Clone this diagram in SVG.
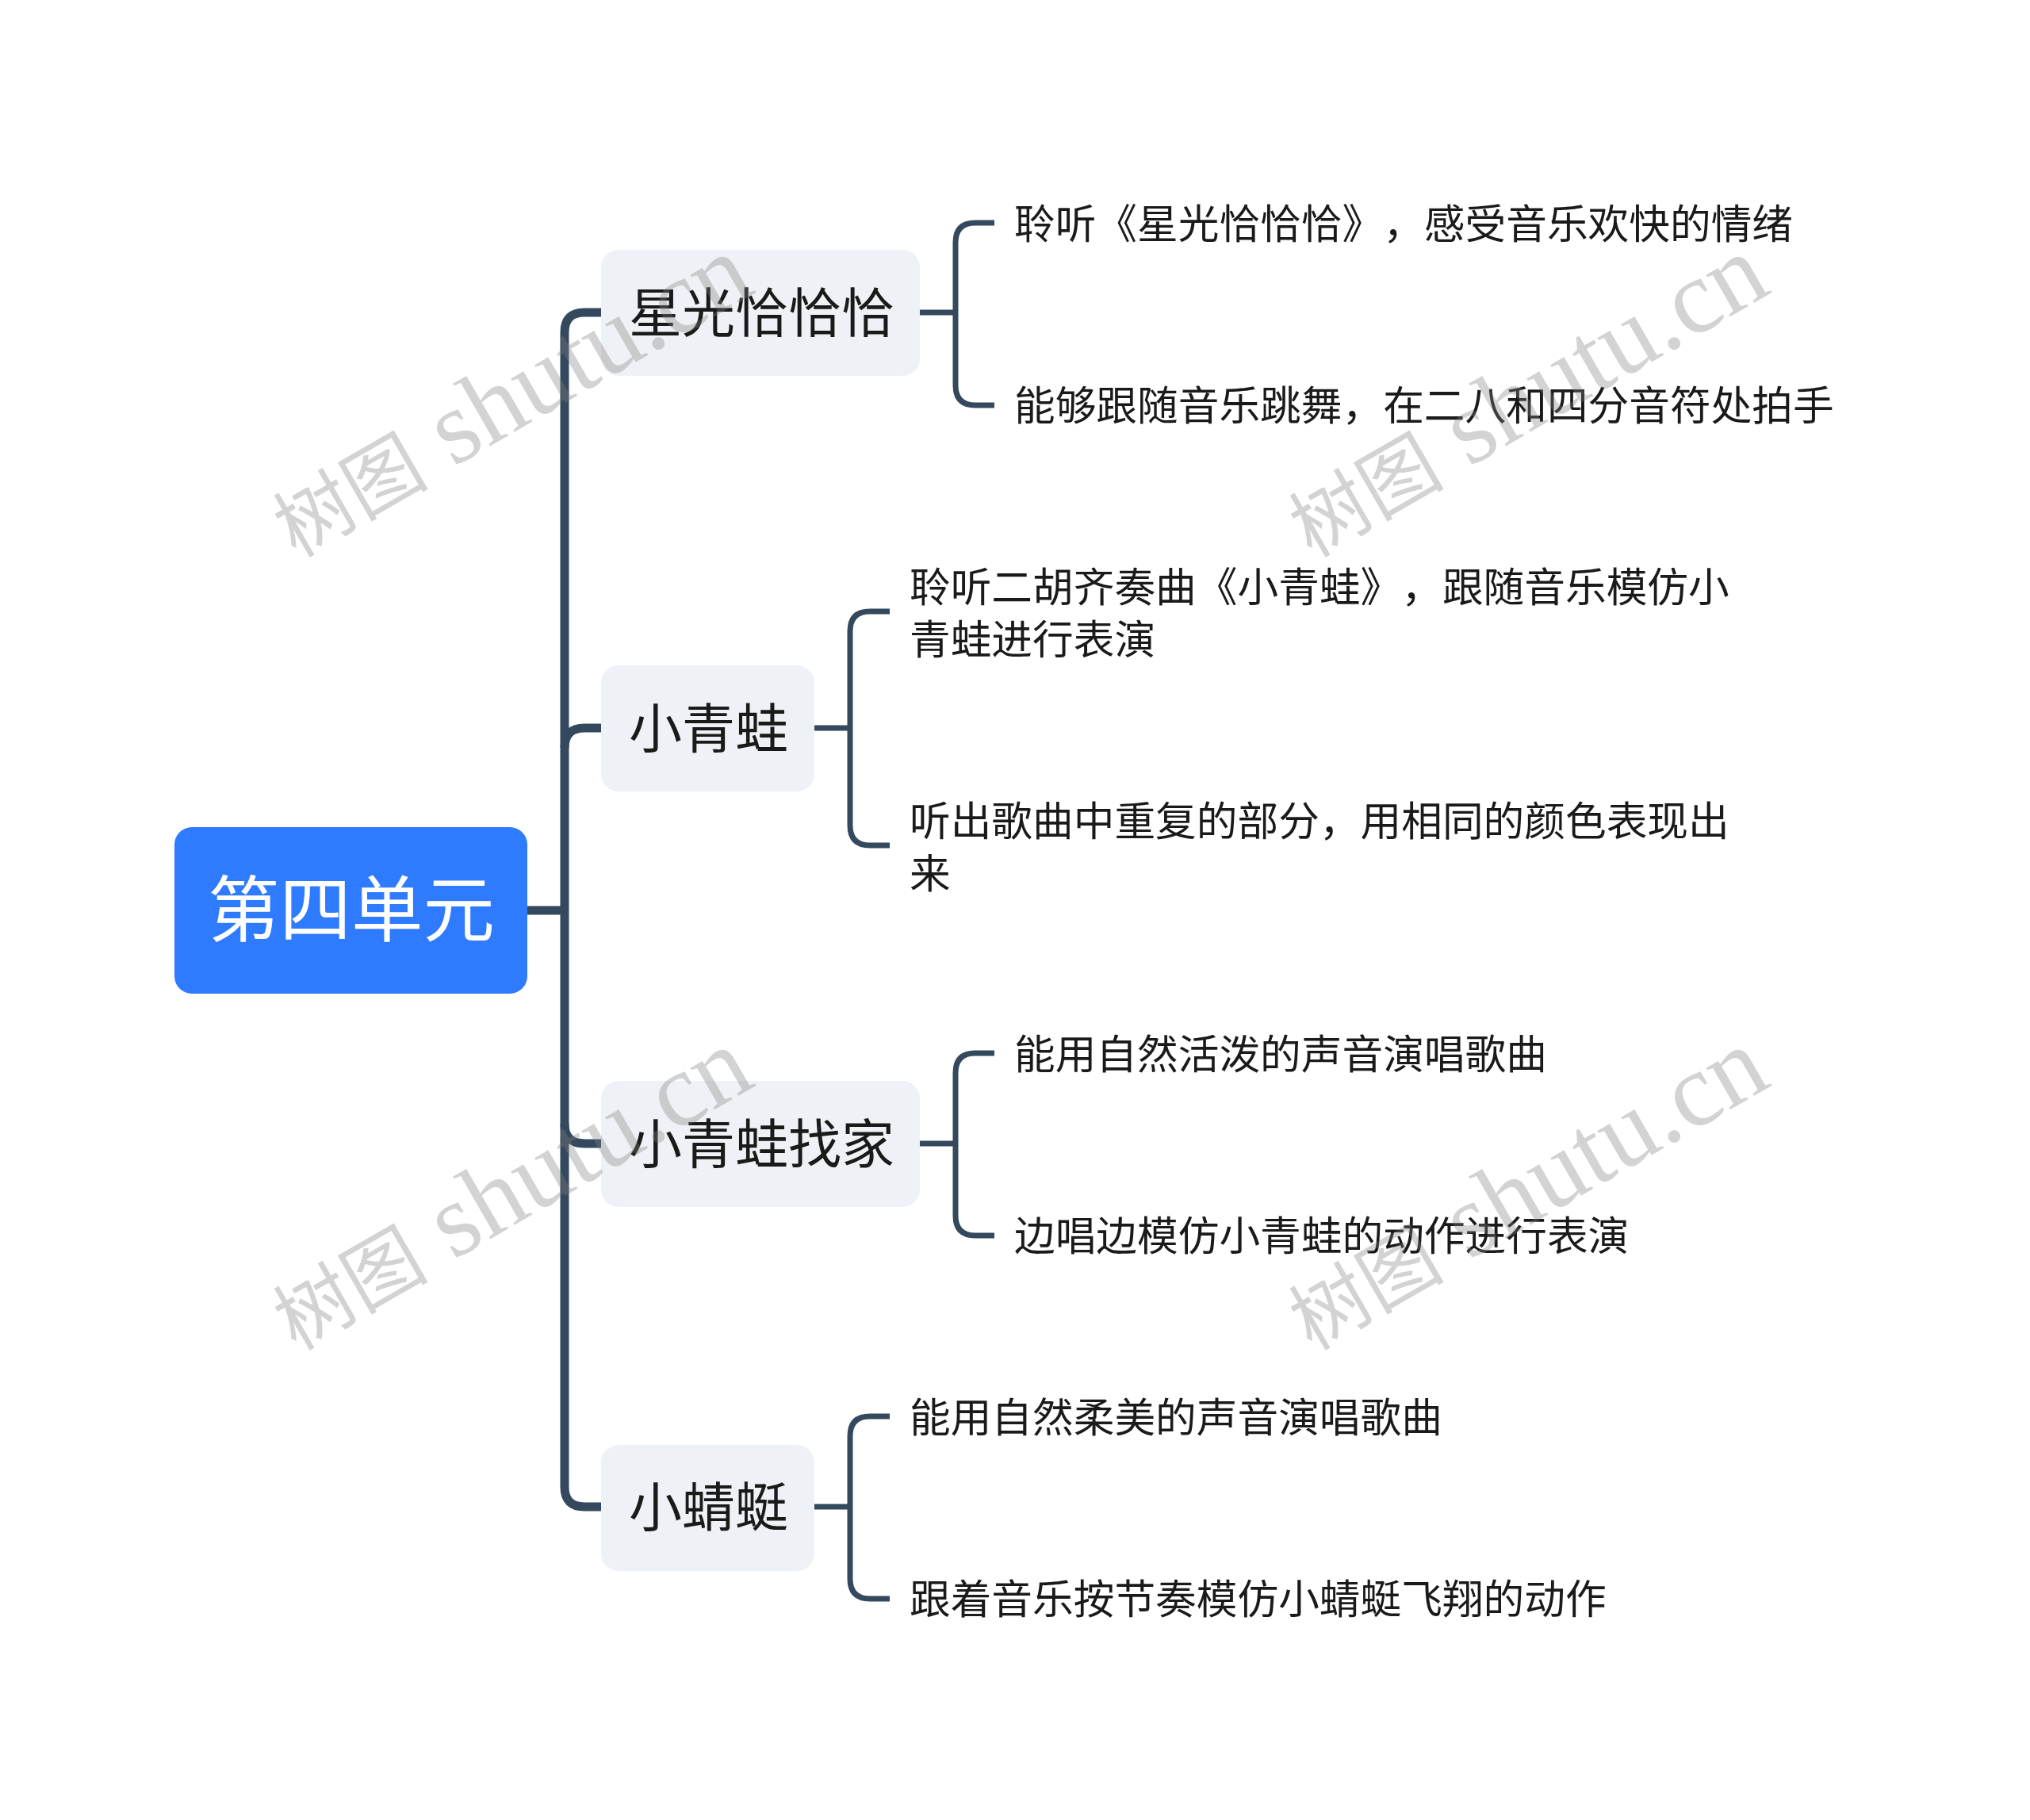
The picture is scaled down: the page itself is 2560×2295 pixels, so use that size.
<svg xmlns="http://www.w3.org/2000/svg" width="2560" height="2295" viewBox="0 0 2560 2295">
<style>
text{font-family:"Noto Sans CJK SC","Liberation Sans",sans-serif;fill:#1a1a1a;text-spacing-trim:space-all}
.root{fill:#2f7bff}
.topic{fill:#eef1f5}
.rt{font-size:90.5px;fill:#fff;text-anchor:middle}
.tt{font-size:67px}
.lt{font-size:51.7px}
.c1{fill:none;stroke:#34495e;stroke-width:11}
.c2{fill:none;stroke:#34495e;stroke-width:7}
.wm{font-family:"Liberation Serif","Noto Sans CJK SC",serif;font-size:132px;fill:#808080;fill-opacity:.35}
.wc{font-family:"Noto Sans CJK SC",serif;font-size:98px}
</style>
<rect width="2560" height="2295" fill="#fff"/>
<g id="connectors">
<path class="c1" d="M665 1148H712"/>
<path class="c1" d="M760 394H737Q712 394 712 419V1875Q712 1900 737 1900H760"/>
<path class="c1" d="M760 918H737Q712 918 712 943"/>
<path class="c1" d="M760 1442H737Q712 1442 712 1417"/>
<path class="c2" d="M1160 394H1205M1254 281H1230Q1205 281 1205 306V486Q1205 511 1230 511H1254"/>
<path class="c2" d="M1027 918H1072M1122 771H1097Q1072 771 1072 796V1041Q1072 1066 1097 1066H1122"/>
<path class="c2" d="M1160 1442H1205M1254 1328H1230Q1205 1328 1205 1353V1533Q1205 1558 1230 1558H1254"/>
<path class="c2" d="M1027 1900H1072M1122 1786H1097Q1072 1786 1072 1811V1991Q1072 2016 1097 2016H1122"/>
</g>
<g id="root"><rect class="root" x="220" y="1043" width="445" height="210" rx="22"/><text class="rt" x="443" y="1180">第四单元</text></g>
<g id="t1"><rect class="topic" x="758" y="315" width="402" height="159" rx="22"/><text class="tt" x="793" y="419">星光恰恰恰</text></g>
<g id="t2"><rect class="topic" x="758" y="839" width="269" height="159" rx="22"/><text class="tt" x="793" y="943">小青蛙</text></g>
<g id="t3"><rect class="topic" x="758" y="1363" width="402" height="159" rx="22"/><text class="tt" x="793" y="1467">小青蛙找家</text></g>
<g id="t4"><rect class="topic" x="758" y="1822" width="269" height="159" rx="22"/><text class="tt" x="793" y="1925">小蜻蜓</text></g>
<g id="l1"><text class="lt" x="1279" y="301">聆听《星光恰恰恰》，感受音乐欢快的情绪</text></g>
<g id="l2"><text class="lt" x="1279" y="530">能够跟随音乐跳舞，在二八和四分音符处拍手</text></g>
<g id="l3"><text class="lt" x="1147" y="759">聆听二胡齐奏曲《小青蛙》，跟随音乐模仿小</text><text class="lt" x="1147" y="825">青蛙进行表演</text></g>
<g id="l4"><text class="lt" x="1147" y="1054">听出歌曲中重复的部分，用相同的颜色表现出</text><text class="lt" x="1147" y="1120">来</text></g>
<g id="l5"><text class="lt" x="1279" y="1348">能用自然活泼的声音演唱歌曲</text></g>
<g id="l6"><text class="lt" x="1279" y="1577">边唱边模仿小青蛙的动作进行表演</text></g>
<g id="l7"><text class="lt" x="1147" y="1806">能用自然柔美的声音演唱歌曲</text></g>
<g id="l8"><text class="lt" x="1147" y="2035">跟着音乐按节奏模仿小蜻蜓飞翔的动作</text></g>
<g id="watermarks">
<text class="wm" transform="translate(373 704) rotate(-30)"><tspan class="wc">树图</tspan> shutu.cn</text>
<text class="wm" transform="translate(1654 704) rotate(-30)"><tspan class="wc">树图</tspan> shutu.cn</text>
<text class="wm" transform="translate(373 1704) rotate(-30)"><tspan class="wc">树图</tspan> shutu.cn</text>
<text class="wm" transform="translate(1654 1704) rotate(-30)"><tspan class="wc">树图</tspan> shutu.cn</text>
</g>
</svg>
